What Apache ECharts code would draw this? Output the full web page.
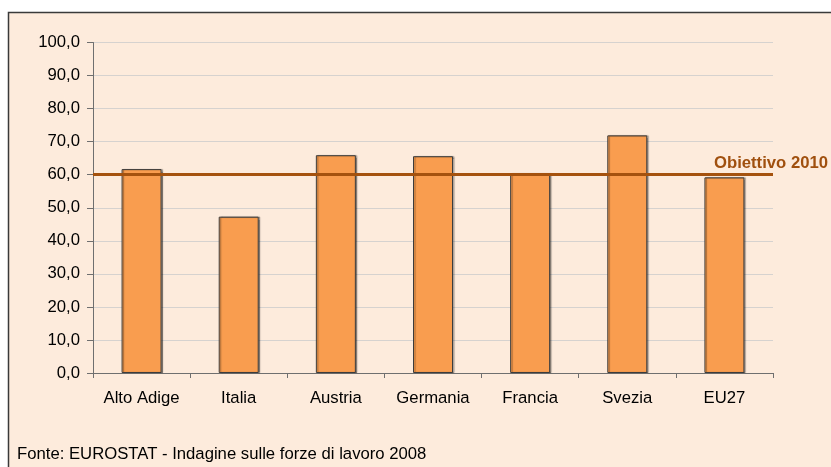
<!DOCTYPE html>
<html>
<head>
<meta charset="utf-8">
<script src="https://cdn.jsdelivr.net/npm/echarts@6/dist/echarts.min.js"></script>
<style>html,body{margin:0;padding:0;background:#fff}#c{width:831px;height:467px}</style>
</head>
<body>
<div id="c"></div>
<script>
const categories = ['Alto Adige', 'Italia', 'Austria', 'Germania', 'Francia', 'Svezia', 'EU27'];
const values = [61.7, 47.3, 65.9, 65.6, 60.4, 71.9, 59.2];
const target = 60;
const targetLabel = 'Obiettivo 2010';
const sourceText = 'Fonte: EUROSTAT - Indagine sulle forze di lavoro 2008';

const FONT = '"Liberation Sans", Arial, sans-serif';
const chart = echarts.init(document.getElementById('c'));
chart.setOption({
  backgroundColor: '#ffffff',
  animation: false,
  title: {
    text: sourceText,
    left: 12, top: 441, padding: 5,
    textStyle: { fontFamily: FONT, fontSize: 16.7, fontWeight: 'normal', color: '#000' }
  },
  graphic: [{
    type: 'rect', z: -10, silent: true,
    shape: { x: 8.5, y: 12.5, width: 900, height: 600 },
    style: { fill: '#FDEBDC', stroke: '#3a3a3a', lineWidth: 1.5 }
  }],
  grid: { left: 93, top: 42.5, right: 58, bottom: 94, containLabel: false },
  xAxis: {
    type: 'category', data: categories,
    axisLine: { lineStyle: { color: '#6f6f6f', width: 1 } },
    axisTick: { show: true, length: 5, lineStyle: { color: '#6f6f6f' } },
    axisLabel: { interval: 0, fontFamily: FONT, fontSize: 16.7, color: '#000', margin: 17 },
    splitLine: { show: false }
  },
  yAxis: {
    type: 'value', min: 0, max: 100, interval: 10,
    axisLine: { show: true, lineStyle: { color: '#6f6f6f', width: 1 } },
    axisTick: { show: true, length: 6, lineStyle: { color: '#6f6f6f' } },
    axisLabel: {
      fontFamily: FONT, fontSize: 16.7, color: '#000', margin: 13,
      formatter: v => v.toFixed(1).replace('.', ',')
    },
    splitLine: { lineStyle: { color: '#D6D2CF', width: 1 } }
  },
  series: [{
    type: 'bar', data: values, barWidth: 40,
    itemStyle: {
      color: '#F99D4F', borderColor: '#3c3c3c', borderWidth: 1,
      shadowColor: 'rgba(0,0,0,0.35)', shadowOffsetX: 1.5, shadowOffsetY: 0, shadowBlur: 1
    },
    markLine: {
      silent: true, symbol: 'none',
      data: [{ yAxis: target }],
      lineStyle: { color: '#A5520E', width: 3, type: 'solid' },
      label: {
        show: true, position: 'end', formatter: targetLabel,
        fontFamily: FONT, fontSize: 16.7, fontWeight: 'bold', color: '#A0500F',
        align: 'center', verticalAlign: 'bottom', distance: [-2, 6], offset: [0, -3]
      }
    }
  }]
});
</script>
</body>
</html>
